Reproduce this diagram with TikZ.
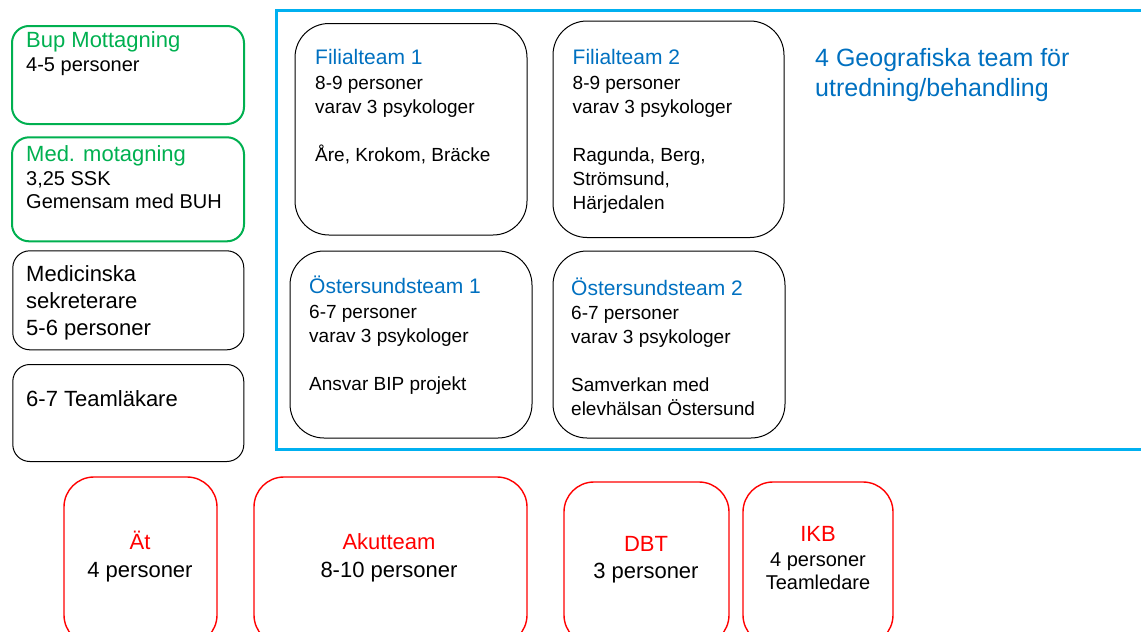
\documentclass[tikz,border=0pt]{standalone}
\usepackage{fontspec}
\setmainfont{Liberation Sans}
\definecolor{grn}{HTML}{00B050}
\definecolor{tblue}{HTML}{0070C0}
\definecolor{fblue}{HTML}{00B0F0}
\definecolor{rd}{HTML}{FF0000}
\begin{document}
\begin{tikzpicture}[x=1pt,y=-1pt,
  lbox/.style={draw=black, rounded corners=17pt, inner sep=0pt, line width=1pt},
  gbox/.style={lbox, draw=grn, line width=2pt},
  tbox/.style={draw=black, rounded corners=34pt, inner sep=0pt, line width=1pt},
  rbox/.style={draw=rd, rounded corners=30pt, inner sep=0pt, line width=1.4pt},
  frame/.style={draw=fblue, inner sep=0pt, line width=3pt},
  tx/.style={inner sep=0pt, anchor=base west, align=left},
  tc/.style={inner sep=0pt, anchor=base, align=center},
  fa/.style={font=\fontsize{22}{27}\selectfont},
  fb/.style={font=\fontsize{20}{23.5}\selectfont},
  ft/.style={font=\fontsize{21}{24}\selectfont, text=tblue},
  fm/.style={font=\fontsize{19}{24}\selectfont},
  fr/.style={font=\fontsize{22}{27.5}\selectfont}
]
\useasboundingbox (0,0) rectangle (1141,632);
\clip (0,0) rectangle (1141,632);

% left column (multi-line nodes are placed at the baseline of their last line)
\node[gbox, minimum width=232pt, minimum height=98pt] (bup) at (128,75) {};
\node[tx, fa, text=grn] (bupT) at (26,47.3) {Bup Mottagning};
\node[tx, fb] (bupB) at (26,71.5) {4-5 personer};

\node[gbox, minimum width=232pt, minimum height=104pt] (med) at (128,189.3) {};
\node[tx, fa, text=grn] (medT) at (26,161.7) {Med. motagning};
\node[tx, fb] (medB) at (26,208.5) {3,25 SSK\\Gemensam med BUH};

\node[lbox, minimum width=231pt, minimum height=99pt] (sek) at (128.3,300.3) {};
\node[tx, fa] (sekT) at (26,335.7) {Medicinska\\sekreterare\\5-6 personer};

\node[lbox, minimum width=231pt, minimum height=97pt] (lak) at (128.3,413) {};
\node[tx, fa] (lakT) at (26,406.7) {6-7 Teamläkare};

% blue frame
\node[frame, minimum width=884pt, minimum height=438.5pt] (geo) at (718,229.75) {};
\node[tx, font=\fontsize{25}{30}\selectfont, text=tblue] (geoT) at (815,96) {4 Geografiska team för\\utredning/behandling};

% teams
\node[tbox, minimum width=232pt, minimum height=211.5pt] (f1) at (411,129.25) {};
\node[tx, ft] (f1T) at (315,64.5) {Filialteam 1};
\node[tx, fm] (f1B) at (315,161.5) {8-9 personer\\varav 3 psykologer\\[24pt]Åre, Krokom, Bräcke};

\node[tbox, minimum width=231pt, minimum height=216.5pt] (f2) at (668.5,129.25) {};
\node[tx, ft] (f2T) at (572.5,64.5) {Filialteam 2};
\node[tx, fm] (f2B) at (572.5,209.5) {8-9 personer\\varav 3 psykologer\\[24pt]Ragunda, Berg,\\Strömsund,\\Härjedalen};

\node[tbox, minimum width=242pt, minimum height=187pt] (o1) at (411,344.5) {};
\node[tx, ft] (o1T) at (309,293) {Östersundsteam 1};
\node[tx, fm] (o1B) at (309,390) {6-7 personer\\varav 3 psykologer\\[24pt]Ansvar BIP projekt};

\node[tbox, minimum width=232pt, minimum height=187pt] (o2) at (669,344.5) {};
\node[tx, ft] (o2T) at (571,295) {Östersundsteam 2};
\node[tx, fm] (o2B) at (571,415.5) {6-7 personer\\varav 3 psykologer\\[24pt]Samverkan med\\elevhälsan Östersund};

% red boxes
\node[rbox, minimum width=153pt, minimum height=168pt] (at) at (140.5,561) {};
\node[tc, fr, text=rd] (atT) at (140,549) {Ät};
\node[tc, fr] (atB) at (140,577) {4 personer};

\node[rbox, minimum width=273pt, minimum height=168pt] (ak) at (390.5,561) {};
\node[tc, fr, text=rd] (akT) at (389,549) {Akutteam};
\node[tc, fr] (akB) at (389,577) {8-10 personer};

\node[rbox, minimum width=165pt, minimum height=163pt] (dbt) at (646.5,563.5) {};
\node[tc, fr, text=rd] (dbtT) at (646,551.7) {DBT};
\node[tc, fr] (dbtB) at (646,578.3) {3 personer};

\node[rbox, minimum width=150pt, minimum height=163pt] (ikb) at (818,563.5) {};
\node[tc, fr, text=rd] (ikbT) at (818,541.7) {IKB};
\node[tc, font=\fontsize{20}{22.6}\selectfont] (ikbB) at (818,589.3) {4 personer\\Teamledare};
\end{tikzpicture}
\end{document}
